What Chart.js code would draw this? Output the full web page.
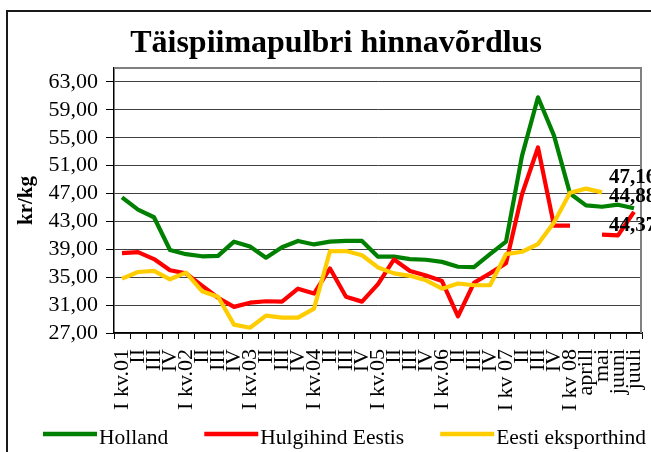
<!DOCTYPE html>
<html>
<head>
<meta charset="utf-8">
<script src="https://cdn.jsdelivr.net/npm/chart.js@4/dist/chart.umd.min.js"></script>
<style>
html,body{margin:0;padding:0;background:#fff;}
#wrap{width:651px;height:452px;position:relative;overflow:hidden;}
</style>
</head>
<body>
<div id="wrap"><canvas id="c" width="651" height="452"></canvas></div>
<script>
// ---- data ----
const categories = ["I kv.01","II","III","IV","I kv.02","II","III","IV","I kv.03","II","III","IV",
  "I kv.04","II","III","IV","I kv.05","II","III","IV","I kv.06","II","III","IV",
  "I kv 07","II","III","IV","I kv 08","aprill","mai","juuni","juuli"];
const holland = [46.45,44.7,43.6,38.9,38.3,38.0,38.05,40.1,39.4,37.8,39.3,40.2,
  39.7,40.1,40.2,40.2,37.95,37.95,37.6,37.5,37.2,36.5,36.45,38.3,
  40.1,52.4,60.8,55.3,47.0,45.3,45.1,45.4,44.88];
const hulgihind = [38.45,38.6,37.6,36.0,35.55,33.8,32.05,30.75,31.35,31.55,31.5,33.35,
  32.65,36.25,32.2,31.5,34.0,37.55,35.9,35.25,34.45,29.4,34.2,35.55,
  37.0,46.9,53.6,42.4,42.4,null,41.1,41.0,44.37];
const eksport = [34.8,35.75,35.9,34.7,35.65,33.0,32.2,28.2,27.75,29.5,29.2,29.2,
  30.5,38.75,38.75,38.15,36.4,35.55,35.2,34.55,33.35,34.1,33.85,33.85,
  38.3,38.65,39.75,42.85,47.1,47.7,47.16,null,null];
const yTicks = [27,31,35,39,43,47,51,55,59,63];
const seriesNames = ["Holland","Hulgihind Eestis","Eesti eksporthind"];
const seriesColors = ["#008000","#FF0000","#FFCC00"];
const chartTitle = "Täispiimapulbri hinnavõrdlus";
const yTitle = "kr/kg";

// ---- chart ----
const SERIF = '"Liberation Serif","Times New Roman",serif';
const fmt = v => Number(v).toFixed(2).replace('.', ',');

const decor = {
  id: 'decor',
  beforeDraw(chart) {
    const ctx = chart.ctx;
    ctx.save();
    ctx.fillStyle = '#fff';
    ctx.fillRect(0, 0, chart.width, chart.height);
    ctx.strokeStyle = '#1a1a1a';
    ctx.lineWidth = 2;
    ctx.strokeRect(7, 11, 700, 500);
    ctx.restore();
  },
  beforeDatasetsDraw(chart) {
    const ctx = chart.ctx, a = chart.chartArea;
    ctx.save();
    ctx.strokeStyle = '#808080';
    ctx.lineWidth = 2;
    ctx.beginPath();
    ctx.moveTo(a.left, a.top);
    ctx.lineTo(a.right - 1, a.top);
    ctx.lineTo(a.right - 1, a.bottom);
    ctx.stroke();
    ctx.restore();
  },
  afterDraw(chart, args, opts) {
    const ctx = chart.ctx;
    ctx.save();
    ctx.fillStyle = '#000';
    // title
    ctx.font = 'bold 32px ' + SERIF;
    ctx.textAlign = 'center';
    ctx.textBaseline = 'alphabetic';
    ctx.fillText(chartTitle, opts.titleX, opts.titleY);
    // legend
    ctx.font = '21.5px ' + SERIF;
    ctx.textAlign = 'left';
    let x = opts.legendX;
    chart.data.datasets.forEach(ds => {
      ctx.strokeStyle = ds.borderColor;
      ctx.lineWidth = 4.5;
      ctx.beginPath();
      ctx.moveTo(x, opts.legendY - 10);
      ctx.lineTo(x + 54, opts.legendY - 10);
      ctx.stroke();
      ctx.fillText(ds.label, x + 56, opts.legendY);
      x += 56 + ctx.measureText(ds.label).width + 36;
    });
    // end-value labels
    const xs = chart.scales.x, ys = chart.scales.y;
    const lastIdx = chart.data.datasets.map(ds => {
      let i = ds.data.length - 1;
      while (i >= 0 && ds.data[i] == null) i--;
      return i;
    });
    const lx = xs.getPixelForValue(Math.min(...lastIdx)) + 7;
    ctx.font = 'bold 21px ' + SERIF;
    ctx.textBaseline = 'middle';
    chart.data.datasets.forEach((ds, k) => {
      const v = ds.data[lastIdx[k]];
      ctx.fillText(fmt(v), lx, ys.getPixelForValue(v) + opts.labelOffsets[k]);
    });
    ctx.restore();
  }
};

new Chart(document.getElementById('c'), {
  type: 'line',
  data: {
    labels: categories,
    datasets: [
      {label: seriesNames[0], data: holland, borderColor: seriesColors[0], order: 3},
      {label: seriesNames[1], data: hulgihind, borderColor: seriesColors[1], order: 2},
      {label: seriesNames[2], data: eksport, borderColor: seriesColors[2], order: 1}
    ].map(d => Object.assign(d, {borderWidth: 4.2, pointRadius: 0, pointHoverRadius: 0, tension: 0,
      fill: false, spanGaps: false, borderJoinStyle: 'round', backgroundColor: d.borderColor}))
  },
  options: {
    responsive: false,
    animation: false,
    devicePixelRatio: 1,
    layout: {padding: {left: 0, right: 9, top: 68, bottom: 0}},
    plugins: {
      legend: {display: false},
      title: {display: false},
      tooltip: {enabled: false},
      decor: {titleX: 336, titleY: 52, legendX: 43, legendY: 444, labelOffsets: [-12, 14, -15]}
    },
    scales: {
      x: {
        type: 'category',
        offset: true,
        grid: {offset: true, drawOnChartArea: false, drawTicks: true, tickLength: 6, color: '#000'},
        border: {color: '#000', width: 1.5},
        ticks: {autoSkip: false, minRotation: 90, maxRotation: 90, padding: 10, color: '#000',
          font: {family: SERIF, size: 22}},
        afterFit: s => { s.height = 119; s.paddingLeft = 0; s.paddingRight = 0; }
      },
      y: {
        min: 27, max: 65,
        afterBuildTicks: s => { s.ticks = yTicks.map(v => ({value: v})); },
        grid: {color: '#404040', tickColor: '#000', tickLength: 8, drawTicks: true},
        border: {color: '#000', width: 1.5},
        ticks: {padding: 8, color: '#000', font: {family: SERIF, size: 22}, callback: v => fmt(v)},
        title: {display: true, text: yTitle, color: '#000', font: {family: SERIF, size: 21, weight: 'bold'},
          padding: {top: 14, bottom: 0}},
        afterFit: s => { s.width = 114; s.paddingTop = 0; s.paddingBottom = 0; }
      }
    }
  },
  plugins: [decor]
});
</script>
</body>
</html>
